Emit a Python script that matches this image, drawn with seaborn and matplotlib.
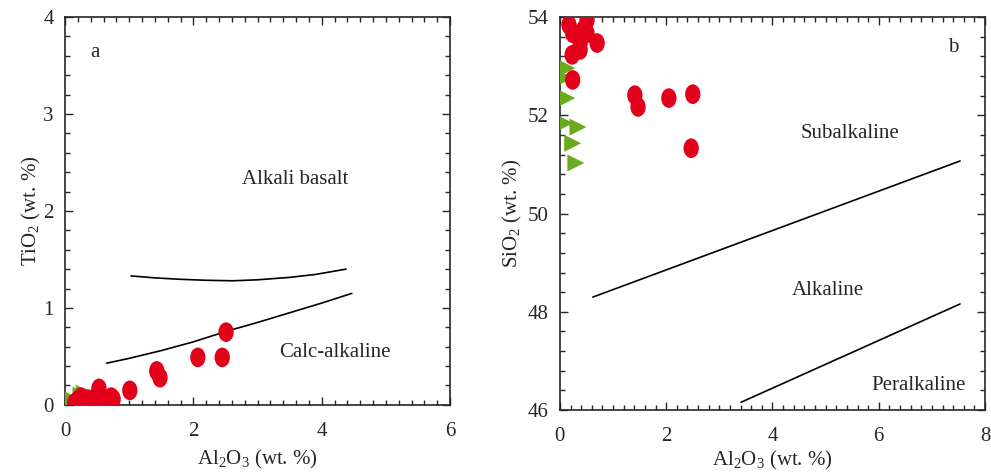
import numpy as np
import pandas as pd
import matplotlib.pyplot as plt
from matplotlib.path import Path
from matplotlib.transforms import Affine2D
from matplotlib.ticker import MultipleLocator
import seaborn as sns

# panel a: Al2O3 vs TiO2
a_red_al = [0.15, 0.20, 0.22, 0.25, 0.30, 0.35, 0.40, 0.42, 0.50, 0.53, 0.60, 0.72, 0.75,
            1.01, 1.43, 1.48, 2.07, 2.45, 2.51]
a_red_ti = [0.02, 0.05, 0.00, 0.08, 0.03, 0.06, 0.00, 0.05, 0.10, 0.17, 0.06, 0.08, 0.06,
            0.15, 0.35, 0.28, 0.49, 0.49, 0.75]
a_grn_al = [0.05, 0.10, 0.15, 0.25, 0.30]
a_grn_ti = [0.02, 0.06, 0.00, 0.10, 0.12]

# boundary curves, panel a
calc_al = [0.65, 1.0, 1.5, 2.0, 2.52, 3.0, 3.5, 4.0, 4.47]
calc_ti = [0.43, 0.48, 0.56, 0.65, 0.76, 0.85, 0.95, 1.05, 1.15]
alk_al = [1.03, 1.4, 1.8, 2.2, 2.62, 3.0, 3.5, 3.9, 4.38]
alk_ti = [1.33, 1.31, 1.295, 1.285, 1.28, 1.29, 1.315, 1.345, 1.40]

# panel b: Al2O3 vs SiO2
b_red_al = [0.17, 0.51, 0.24, 0.51, 0.38, 0.70, 0.23, 0.38, 0.45, 0.24,
            1.41, 1.47, 2.05, 2.50, 2.47]
b_red_si = [53.84, 53.94, 53.67, 53.67, 53.47, 53.47, 53.23, 53.33, 53.75, 52.72,
            52.41, 52.17, 52.35, 52.43, 51.33]
b_grn_al = [0.13, 0.09, 0.13, 0.04, 0.34, 0.24, 0.30, 0.09]
b_grn_si = [52.96, 52.76, 52.35, 51.86, 51.76, 51.43, 51.03, 51.84]

# boundary lines, panel b
sub_al = [0.62, 7.53]
sub_si = [48.30, 51.07]
per_al = [3.41, 7.53]
per_si = [46.16, 48.16]

red = "#e2001a"
green = "#6aaa1e"

sns.set_style("ticks")
plt.rcParams["font.family"] = ["Liberation Serif", "DejaVu Serif"]
plt.rcParams["mathtext.fontset"] = "custom"
plt.rcParams["mathtext.rm"] = "Liberation Serif"
plt.rcParams["mathtext.it"] = "Liberation Serif:italic"
plt.rcParams["mathtext.default"] = "rm"

ellipse = Path.unit_circle().transformed(Affine2D().scale(0.78, 1.0))

fig = plt.figure(figsize=(9.91, 4.73), dpi=100)
ax_a = fig.add_axes([0.0656, 0.144, 0.3885, 0.820])
ax_b = fig.add_axes([0.565, 0.133, 0.429, 0.831])


def scatter(ax, x, y, color, marker, size):
    df = pd.DataFrame({"x": x, "y": y})
    sns.scatterplot(data=df, x="x", y="y", ax=ax, color=color, marker=marker,
                    s=size, edgecolor="none", linewidth=0, zorder=3)


def boundary(ax, x, y):
    df = pd.DataFrame({"x": x, "y": y})
    sns.lineplot(data=df, x="x", y="y", ax=ax, color="black", lw=1.2,
                 sort=False, estimator=None, zorder=2)


# panel a
boundary(ax_a, calc_al, calc_ti)
boundary(ax_a, alk_al, alk_ti)
scatter(ax_a, a_grn_al, a_grn_ti, green, ">", 150)
scatter(ax_a, a_red_al, a_red_ti, red, ellipse, 200)

# panel b
boundary(ax_b, sub_al, sub_si)
boundary(ax_b, per_al, per_si)
scatter(ax_b, b_grn_al, b_grn_si, green, ">", 150)
scatter(ax_b, b_red_al, b_red_si, red, ellipse, 200)

ax_a.set_xlim(0, 6)
ax_a.set_ylim(0, 4)
ax_a.xaxis.set_major_locator(MultipleLocator(2))
ax_a.xaxis.set_minor_locator(MultipleLocator(0.2))
ax_a.yaxis.set_major_locator(MultipleLocator(1))
ax_a.yaxis.set_minor_locator(MultipleLocator(0.2))
ax_a.set_xlabel(r"Al$_2$O$_3$ (wt. %)", fontsize=15, labelpad=5)
ax_a.set_ylabel(r"TiO$_2$ (wt. %)", fontsize=15, labelpad=0)

ax_b.set_xlim(0, 8)
ax_b.set_ylim(46, 54)
ax_b.xaxis.set_major_locator(MultipleLocator(2))
ax_b.xaxis.set_minor_locator(MultipleLocator(0.2))
ax_b.yaxis.set_major_locator(MultipleLocator(2))
ax_b.yaxis.set_minor_locator(MultipleLocator(0.4))
ax_b.set_xlabel(r"Al$_2$O$_3$ (wt. %)", fontsize=15, labelpad=2)
ax_b.set_ylabel(r"SiO$_2$ (wt. %)", fontsize=15, labelpad=3)

for ax in (ax_a, ax_b):
    ax.tick_params(which="both", direction="in", top=True, right=True,
                   labelsize=15, width=1)
    ax.tick_params(axis="x", pad=12)
    ax.tick_params(axis="y", pad=8)
    ax.tick_params(which="major", length=6)
    ax.tick_params(which="minor", length=3.5)
    for sp in ax.spines.values():
        sp.set_linewidth(1.2)
        sp.set_visible(True)

ax_a.text(0.47, 3.63, "a", fontsize=15, ha="center", va="center")
ax_a.text(3.58, 2.32, "Alkali basalt", fontsize=15, ha="center", va="center")
ax_a.text(4.2, 0.54, "Calc-alkaline", fontsize=15, ha="center", va="center")

ax_b.text(7.4, 53.37, "b", fontsize=15, ha="center", va="center")
ax_b.text(5.46, 51.63, "Subalkaline", fontsize=15, ha="center", va="center")
ax_b.text(5.05, 48.43, "Alkaline", fontsize=15, ha="center", va="center")
ax_b.text(6.74, 46.5, "Peralkaline", fontsize=15, ha="center", va="center")

plt.savefig("out.png", dpi=100)
